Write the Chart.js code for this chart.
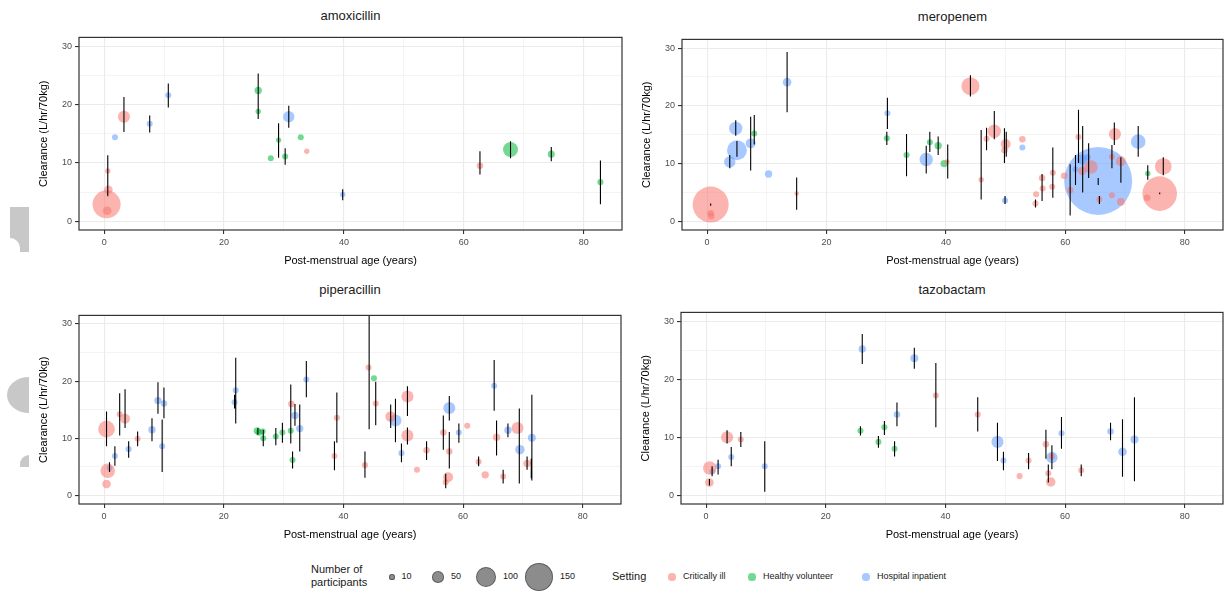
<!DOCTYPE html>
<html>
<head>
<meta charset="utf-8">
<script src="https://cdn.jsdelivr.net/npm/chart.js@4.4.1/dist/chart.umd.min.js"></script>
<style>
  body { margin: 0; background: #fff; width: 1225px; height: 594px; position: relative; overflow: hidden;
         font-family: "Liberation Sans", Arial, sans-serif; }
  .box { position: absolute; }
  .facet { position: absolute; font-size: 13px; line-height: 15px; color: #1a1a1a; transform: translateX(-50%); white-space: nowrap; }
  .lg { position: absolute; white-space: nowrap; color: #1a1a1a; }
  .dot { position: absolute; border-radius: 50%; }
  .blob { position: absolute; background: #c8c8c8; }
</style>
</head>
<body>
<script>
// Réglages communs
const settings = ['Critically ill', 'Healthy volunteer', 'Hospital inpatient'];
const settingCodes = ['C', 'H', 'I'];
const settingColors = ['248,118,109', '0,186,56', '97,156,255'];
const xTicks = [0, 20, 40, 60, 80];
const yTicks = [0, 10, 20, 30];
const sizeBreaks = [10, 50, 100, 150];

// amoxicillin
const amoxAge = [0.4, 0.5, 0.7, 0.6, 3.3, 1.8, 7.6, 10.7, 25.7, 25.7, 30.8, 29.1, 30.2, 27.8, 32.8, 33.8, 39.8, 62.7, 67.8, 74.6, 82.8];
const amoxCl  = [2.9, 1.8, 5.4, 8.6, 17.9, 14.4, 16.7, 21.6, 22.4, 18.8, 17.9, 13.9, 11.1, 10.8, 14.4, 12.0, 4.6, 9.5, 12.3, 11.5, 6.7];
const amoxN   = [150, 31, 31, 11, 52, 15, 15, 15, 23, 11, 48, 11, 15, 15, 15, 11, 11, 18, 70, 21, 15];
const amoxSet = ['C', 'C', 'C', 'C', 'C', 'I', 'I', 'I', 'H', 'H', 'I', 'H', 'H', 'H', 'H', 'C', 'I', 'C', 'H', 'H', 'H'];
const amoxErrAge = [0.6, 3.3, 7.6, 10.7, 25.7, 30.8, 29.1, 30.2, 39.8, 62.7, 67.8, 74.6, 82.8];
const amoxErrLo  = [4.3, 15.3, 15.2, 19.5, 17.5, 16.0, 10.9, 9.7, 3.6, 8.0, 10.8, 10.3, 2.9];
const amoxErrHi  = [11.3, 21.3, 18.1, 23.6, 25.3, 19.8, 16.8, 12.5, 5.5, 12.0, 13.7, 12.7, 10.4];

// meropenem
const meroAge = [0.6, 0.6, 0.7, 3.8, 5.0, 4.8, 7.3, 7.9, 10.3, 13.4, 15.0, 30.2, 30.1, 33.4, 36.7, 37.3, 38.7, 39.7, 40.2,
                 44.1, 45.9, 46.8, 48.1, 50.0, 49.8, 49.9, 52.8, 52.8, 55.0, 55.1, 56.1, 56.2, 57.8, 57.9, 59.8,
                 65.5, 62.2, 61.7, 62.8, 63.7, 64.3, 62.8, 60.8, 65.7, 67.8, 67.8, 69.3, 69.3, 68.3, 72.2, 73.8, 73.7, 76.4, 75.8];
const meroCl  = [2.9, 1.4, 0.9, 10.3, 12.3, 16.1, 13.5, 15.2, 8.2, 24.1, 4.8, 18.7, 14.4, 11.5, 10.7, 13.7, 13.1, 10.0, 10.3,
                 23.4, 7.2, 14.3, 15.6, 13.4, 12.3, 3.6, 14.2, 12.8, 3.1, 4.7, 7.5, 5.7, 6.0, 8.4, 7.9,
                 7.0, 14.6, 9.0, 10.7, 11.1, 9.4, 8.7, 5.4, 3.8, 11.2, 4.5, 10.4, 3.4, 15.1, 13.8, 8.3, 4.1, 9.5, 4.8];
const meroN   = [199, 18, 18, 48, 100, 60, 39, 15, 23, 31, 6, 15, 15, 15, 60, 15, 23, 23, 9,
                 88, 11, 15, 60, 39, 18, 15, 18, 15, 15, 15, 18, 15, 15, 15, 18,
                 395, 15, 15, 39, 18, 60, 27, 18, 15, 15, 15, 39, 27, 52, 67, 11, 18, 80, 190];
const meroSet = ['C', 'C', 'C', 'I', 'I', 'I', 'I', 'H', 'I', 'I', 'C', 'I', 'H', 'H', 'I', 'H', 'H', 'H', 'C',
                 'C', 'C', 'C', 'C', 'C', 'C', 'I', 'C', 'I', 'C', 'C', 'C', 'C', 'C', 'C', 'C',
                 'I', 'C', 'I', 'I', 'I', 'C', 'C', 'C', 'C', 'C', 'C', 'C', 'C', 'C', 'I', 'H', 'C', 'C', 'C'];
const meroErrAge = [0.6, 3.8, 4.8, 5.0, 7.3, 7.9, 13.4, 15.0, 30.2, 30.1, 33.4, 36.7, 37.3, 38.7, 40.3,
                    44.1, 45.9, 46.8, 48.1, 49.8, 50.1, 49.9, 55.0, 56.1, 57.9, 60.8, 61.7, 62.2, 62.9, 63.9,
                    65.5, 65.7, 67.8, 68.2, 69.3, 72.2, 73.8, 76.4, 75.8];
const meroErrLo  = [2.7, 9.2, 14.8, 11.2, 8.8, 13.3, 18.9, 2.0, 16.0, 13.2, 7.8, 8.3, 12.0, 11.5, 7.4,
                    21.6, 3.8, 12.3, 14.2, 10.1, 11.2, 3.0, 2.4, 3.5, 4.1, 1.0, 6.3, 10.1, 5.0, 7.5,
                    6.3, 3.0, 9.2, 13.2, 6.7, 11.2, 7.2, 8.0, 4.7];
const meroErrHi  = [3.1, 11.5, 17.5, 13.9, 18.1, 18.4, 29.3, 7.6, 21.4, 15.5, 15.1, 13.1, 15.5, 14.7, 13.3,
                    25.3, 15.8, 16.2, 19.1, 16.1, 15.5, 4.4, 3.8, 8.2, 12.8, 9.9, 11.5, 19.3, 16.5, 13.5,
                    7.5, 4.4, 13.2, 17.1, 11.1, 16.5, 9.7, 11.1, 5.0];

// piperacillin
const pipAge = [0.4, 0.6, 0.4, 0.9, 1.8, 2.6, 3.5, 4.1, 5.6, 8.0, 9.0, 10.0, 9.7, 21.8, 22.0,
                25.6, 25.9, 26.5, 26.6, 28.7, 29.8, 31.2, 31.3, 31.5, 31.9, 32.7, 33.8, 38.9, 38.5,
                44.2, 45.1, 45.4, 43.6, 47.9, 48.7, 50.7, 50.7, 49.7, 53.9, 52.3, 57.7, 56.7, 57.7, 57.5, 57.1,
                59.3, 60.7, 62.6, 63.7, 65.2, 65.6, 66.7, 67.5, 69.1, 69.5, 70.7, 71.5];
const pipCl  = [11.6, 4.3, 2.0, 4.8, 6.9, 14.2, 13.4, 8.1, 9.9, 11.5, 16.6, 16.1, 8.6, 16.3, 18.4,
                11.3, 11.0, 11.2, 10.0, 10.3, 11.0, 11.3, 16.0, 6.2, 14.0, 11.7, 20.3, 13.6, 6.9,
                22.4, 20.5, 16.1, 5.3, 13.8, 13.1, 17.3, 10.5, 7.4, 7.9, 4.5, 15.3, 11.0, 7.7, 3.2, 2.3,
                11.0, 12.2, 5.9, 3.6, 19.2, 10.2, 3.3, 11.4, 11.8, 8.0, 5.6, 10.1];
const pipN   = [80, 67, 31, 15, 15, 15, 39, 15, 15, 23, 23, 18, 15, 15, 15,
                23, 18, 15, 15, 15, 15, 15, 18, 15, 23, 23, 15, 15, 15,
                15, 15, 15, 15, 43, 52, 52, 52, 15, 18, 15, 52, 18, 18, 39, 15,
                15, 15, 15, 23, 15, 23, 15, 23, 52, 36, 23, 27];
const pipSet = ['C', 'C', 'C', 'I', 'I', 'C', 'C', 'I', 'C', 'I', 'I', 'I', 'I', 'I', 'I',
                'H', 'H', 'H', 'H', 'H', 'H', 'H', 'C', 'H', 'I', 'I', 'I', 'C', 'C',
                'C', 'H', 'C', 'C', 'C', 'I', 'C', 'C', 'I', 'C', 'C', 'I', 'C', 'C', 'C', 'C',
                'I', 'C', 'C', 'C', 'I', 'C', 'C', 'I', 'C', 'I', 'C', 'I'];
const pipErrAge = [0.4, 0.9, 1.8, 2.6, 3.5, 4.1, 5.6, 8.0, 9.0, 10.0, 9.7, 21.8, 22.0, 25.7, 26.6, 28.7, 29.8,
                   31.2, 31.5, 31.9, 32.7, 33.8, 38.9, 38.5,
                   44.3, 43.6, 45.4, 47.9, 48.7, 50.7, 50.7, 49.7, 53.9, 57.7, 56.7, 57.7, 57.1, 59.3, 62.6,
                   65.2, 65.6, 66.7, 67.5, 69.4, 70.7, 71.5, 71.4];
const pipErrLo  = [8.6, 4.1, 5.2, 10.5, 11.8, 6.6, 8.6, 9.5, 14.3, 13.5, 4.1, 15.2, 12.6, 10.6, 8.6, 8.8, 9.2,
                   9.1, 4.7, 12.2, 7.7, 17.2, 9.2, 4.4,
                   11.6, 3.1, 12.3, 11.8, 9.3, 13.9, 8.9, 5.8, 6.2, 13.1, 8.0, 4.7, 1.25, 9.2, 5.1,
                   14.8, 7.0, 2.1, 10.2, 2.1, 4.5, 2.6, 3.0];
const pipErrHi  = [14.7, 5.8, 8.6, 17.9, 18.6, 9.5, 11.2, 13.5, 19.8, 18.9, 13.3, 17.6, 24.1, 11.8, 11.5, 11.8, 12.7,
                   19.4, 7.7, 16.0, 15.9, 23.5, 18.0, 9.5,
                   33.0, 7.7, 19.9, 15.9, 16.9, 19.1, 11.9, 9.1, 9.5, 17.4, 14.0, 11.1, 3.8, 12.6, 6.8,
                   23.7, 13.1, 4.5, 12.6, 15.2, 6.8, 17.6, 6.4];

// tazobactam
const tazAge = [0.6, 1.05, 0.55, 2.0, 3.5, 5.8, 4.2, 9.8, 26.1, 34.8, 38.4, 25.8, 28.8, 29.8, 31.5, 31.9,
                45.4, 48.7, 49.7, 52.4, 53.9, 56.8, 57.8, 57.8, 57.2, 57.6, 59.4, 62.7, 67.6, 69.6, 71.6];
const tazCl  = [4.7, 4.1, 2.2, 5.0, 10.0, 9.6, 6.6, 5.0, 25.2, 23.6, 17.2, 11.1, 9.2, 11.7, 8.0, 13.9,
                13.9, 9.2, 6.0, 3.3, 6.0, 8.8, 6.5, 6.7, 3.8, 2.3, 10.7, 4.3, 11.0, 7.5, 9.6];
const tazN   = [60, 15, 31, 15, 52, 15, 15, 15, 23, 27, 15, 15, 15, 15, 15, 18,
                15, 52, 15, 15, 15, 18, 48, 15, 15, 36, 15, 15, 18, 31, 27];
const tazSet = ['C', 'I', 'C', 'I', 'C', 'C', 'I', 'I', 'I', 'I', 'C', 'H', 'H', 'H', 'H', 'I',
                'C', 'I', 'I', 'C', 'C', 'C', 'I', 'C', 'C', 'C', 'I', 'C', 'I', 'I', 'I'];
const tazErrAge = [1.0, 0.55, 2.0, 3.5, 5.8, 4.2, 9.8, 26.1, 34.8, 38.4, 25.8, 28.8, 29.8, 31.5, 31.9,
                   45.4, 48.7, 49.7, 53.9, 56.8, 57.8, 57.2, 59.4, 62.7, 67.6, 69.6, 71.6];
const tazErrLo  = [3.3, 1.7, 3.6, 8.9, 8.3, 5.0, 0.6, 22.6, 21.8, 11.7, 10.3, 8.2, 10.4, 6.7, 11.9,
                   11.0, 5.9, 4.3, 4.5, 6.3, 4.5, 2.2, 8.0, 3.3, 9.5, 3.2, 2.4];
const tazErrHi  = [5.0, 2.8, 6.1, 11.2, 10.9, 8.3, 9.3, 27.8, 25.4, 22.8, 11.9, 10.2, 12.8, 9.3, 16.0,
                   16.9, 12.5, 7.5, 7.3, 11.3, 8.6, 5.3, 13.5, 5.3, 12.5, 13.1, 16.9];

const FONT = '"Liberation Sans", Arial, sans-serif';
const X_MIN = -4.2, X_MAX = 86.4, Y_MIN = -1.5, Y_MAX = 31.5;

// rayon (px) en fonction du nombre de participants
function radius(n) {
    return 1.8 + 0.0815 * n;
}

// lignes principales + secondaires
function gridValues(major, min, max) {
    const vals = [...major];
    const step = major[1] - major[0];
    for (let i = 0; i < major.length; i++) {
        vals.push(major[i] + step / 2);
    }
    return vals.filter(v => v > min && v < max).sort((a, b) => a - b);
}

const frame = {
    id: 'frame',
    afterDatasetsDraw(chart) {
        const a = chart.chartArea, c = chart.ctx;
        c.save();
        c.strokeStyle = '#333333';
        c.lineWidth = 1.2;
        c.strokeRect(a.left, a.top, a.right - a.left, a.bottom - a.top);
        c.restore();
    }
};

function axisCfg(major, min, max, horizontal) {
    return {
        type: 'linear', min: min, max: max,
        afterBuildTicks: ax => { ax.ticks = gridValues(major, min, max).map(v => ({ value: v })); },
        afterFit: s => { if (horizontal) s.height = 42; else s.width = 46; },
        border: { display: false },
        grid: {
            color: '#ebebeb',
            lineWidth: c => (c.tick && major.includes(c.tick.value)) ? 1.1 : 0.55,
            tickColor: c => (c.tick && major.includes(c.tick.value)) ? '#333333' : 'rgba(0,0,0,0)',
            tickWidth: 1.1,
            tickLength: 4,
            drawTicks: true
        },
        ticks: {
            autoSkip: false, maxRotation: 0, padding: 3,
            color: '#4d4d4d', font: { size: 9, family: FONT },
            callback: v => major.includes(v) ? String(v) : ''
        },
        title: {
            display: true,
            text: horizontal ? 'Post-menstrual age (years)' : 'Clearance (L/hr/70kg)',
            color: '#000', font: { size: 11, family: FONT },
            padding: { top: 4, bottom: 4 }
        }
    };
}

function makePanel(p) {
    const [l, t, r, b] = p.area;
    const left = l - 46, top = t - 4;
    const w = r - left + 4, h = b + 42 - top;

    const box = document.createElement('div');
    box.className = 'box';
    box.style.left = left + 'px';
    box.style.top = top + 'px';
    const canvas = document.createElement('canvas');
    canvas.width = w; canvas.height = h;
    canvas.style.width = w + 'px'; canvas.style.height = h + 'px';
    box.appendChild(canvas);
    document.body.appendChild(box);

    const ttl = document.createElement('div');
    ttl.className = 'facet';
    ttl.textContent = p.title;
    ttl.style.left = ((l + r) / 2) + 'px';
    ttl.style.top = p.titleTop + 'px';
    document.body.appendChild(ttl);

    const datasets = settingCodes.map((code, k) => ({
        type: 'bubble',
        label: settings[k],
        order: 1,
        data: p.age.map((x, i) => ({ x: x, y: p.cl[i], r: radius(p.n[i]) })).filter((d, i) => p.set[i] === code),
        backgroundColor: 'rgba(' + settingColors[k] + ',0.55)',
        borderWidth: 0,
        hoverRadius: 0
    }));

    const err = [];
    p.errAge.forEach((x, i) => {
        err.push({ x: x, y: p.errLo[i] }, { x: x, y: p.errHi[i] }, { x: x, y: null });
    });
    datasets.push({
        type: 'line', label: 'range', order: 0, data: err,
        borderColor: '#000', borderWidth: 1.1, pointRadius: 0, spanGaps: false, fill: false
    });

    new Chart(canvas.getContext('2d'), {
        type: 'bubble',
        data: { datasets: datasets },
        options: {
            responsive: false, animation: false, events: [],
            layout: { autoPadding: false, padding: { top: 4, right: 4, left: 0, bottom: 0 } },
            plugins: { legend: { display: false }, tooltip: { enabled: false }, title: { display: false } },
            scales: {
                x: axisCfg(xTicks, X_MIN, X_MAX, true),
                y: axisCfg(yTicks, Y_MIN, Y_MAX, false)
            }
        },
        plugins: [frame]
    });
}

const panels = [
    { title: 'amoxicillin', age: amoxAge, cl: amoxCl, n: amoxN, set: amoxSet,
      errAge: amoxErrAge, errLo: amoxErrLo, errHi: amoxErrHi, area: [79, 33, 622, 230], titleTop: 8 },
    { title: 'meropenem', age: meroAge, cl: meroCl, n: meroN, set: meroSet,
      errAge: meroErrAge, errLo: meroErrLo, errHi: meroErrHi, area: [682, 35, 1223, 230], titleTop: 9 },
    { title: 'piperacillin', age: pipAge, cl: pipCl, n: pipN, set: pipSet,
      errAge: pipErrAge, errLo: pipErrLo, errHi: pipErrHi, area: [79, 311, 621, 504], titleTop: 282 },
    { title: 'tazobactam', age: tazAge, cl: tazCl, n: tazN, set: tazSet,
      errAge: tazErrAge, errLo: tazErrLo, errHi: tazErrHi, area: [681, 308, 1223, 504], titleTop: 282 }
];

panels.forEach(makePanel);

// légende du bas
function addText(txt, x, y, size) {
    const d = document.createElement('div');
    d.className = 'lg';
    d.style.left = x + 'px'; d.style.top = y + 'px';
    d.style.fontSize = size + 'px';
    d.innerHTML = txt;
    document.body.appendChild(d);
    return d;
}
function addDot(cx, cy, rad, bg, border) {
    const d = document.createElement('div');
    d.className = 'dot';
    d.style.left = (cx - rad) + 'px'; d.style.top = (cy - rad) + 'px';
    d.style.width = (2 * rad) + 'px'; d.style.height = (2 * rad) + 'px';
    d.style.background = bg;
    if (border) { d.style.boxSizing = 'border-box'; d.style.border = border; }
    document.body.appendChild(d);
}

const legendY = 577;
const nt = addText('Number of<br>participants', 311, 563, 11);
nt.style.lineHeight = '13px';
const sizeX = [392, 438, 486, 539];
sizeBreaks.forEach((n, i) => {
    addDot(sizeX[i], legendY, radius(n), 'rgba(0,0,0,0.45)', '1px solid rgba(0,0,0,0.35)');
    addText(String(n), sizeX[i] + radius(n) + 7, legendY - 6, 9);
});
addText('Setting', 612, legendY - 7, 11);
const colX = [672, 752, 866];
settings.forEach((s, k) => {
    addDot(colX[k], legendY, 3.6, 'rgba(' + settingColors[k] + ',0.55)');
    addText(s, colX[k] + 11, legendY - 6, 9);
});

// marques grises sur le bord gauche
const blobs = [
    { l: 10, t: 207, w: 19, h: 45, rad: '0 0 0 0' },
    { l: 7, t: 377, w: 22, h: 36, rad: '22px 0 0 22px / 18px 0 0 18px' },
    { l: 20, t: 455, w: 9, h: 12, rad: '9px 0 0 0' }
];
blobs.forEach(bk => {
    const d = document.createElement('div');
    d.className = 'blob';
    d.style.left = bk.l + 'px'; d.style.top = bk.t + 'px';
    d.style.width = bk.w + 'px'; d.style.height = bk.h + 'px';
    d.style.borderRadius = bk.rad;
    document.body.appendChild(d);
});
const notch = document.createElement('div');
notch.style.cssText = 'position:absolute;left:10px;top:238px;width:10px;height:14px;background:#fff;border-top-right-radius:10px;';
document.body.appendChild(notch);
</script>
</body>
</html>
